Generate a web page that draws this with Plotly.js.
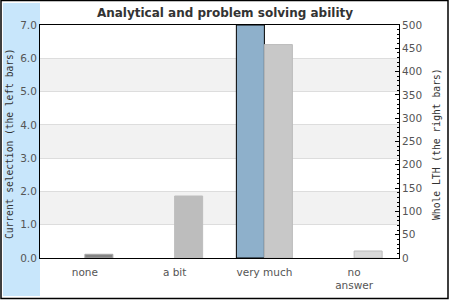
<!DOCTYPE html>
<html>
<head>
<meta charset="utf-8">
<script src="https://cdn.plot.ly/plotly-3.0.1.min.js"></script>
<style>html,body{margin:0;padding:0;background:#fff}#chart{width:450px;height:300px}</style>
</head>
<body>
<div id="chart"></div>
<script>
const categories = ['none', 'a bit', 'very much', 'no<br>answer'];
const currentSelection = [0, 0, 7.0, 0];
const wholeLTH = [8, 133, 458, 15];
const rightFill = ['#858585', '#bdbdbd', '#c8c8c8', '#d9d9d9'];
const rightEdge = ['#a8a8a8', '#bdbdbd', '#bbbbbb', '#bbbbbb'];
const leftTicks = [0, 1, 2, 3, 4, 5, 6, 7];
const rightTicks = [0, 50, 100, 150, 200, 250, 300, 350, 400, 450, 500];
const bands = [[1, 2], [3, 4], [5, 6]];

const L = 40, R = 51, T = 25, B = 42, W = 450, H = 300;
const pw = W - L - R, ph = H - T - B;
const px = v => (v - L) / pw;
const py = v => (H - B - v) / ph;

// outline only on bars that have a height
const leftEdgeWidth = currentSelection.map(v => (v > 0 ? 1 : 0));

const traces = [
  {
    type: 'bar', x: categories, y: currentSelection, yaxis: 'y', offsetgroup: '1',
    marker: {color: '#8eb0cb', line: {color: '#000000', width: leftEdgeWidth}},
    hoverinfo: 'x+y'
  },
  {
    type: 'bar', x: categories, y: wholeLTH, yaxis: 'y2', offsetgroup: '2',
    marker: {color: rightFill, line: {color: rightEdge, width: 1}},
    hoverinfo: 'x+y'
  }
];

const shapes = [
  {type: 'rect', xref: 'paper', yref: 'paper', x0: px(3), x1: px(40), y0: py(296), y1: py(3),
   fillcolor: '#c8e6fb', line: {width: 0}, layer: 'below'},
  {type: 'rect', xref: 'paper', yref: 'paper', x0: px(1), x1: px(448), y0: py(298.5), y1: py(0.5),
   fillcolor: 'rgba(0,0,0,0)', line: {color: '#000', width: 1.5}, layer: 'above'}
];
bands.forEach(b => shapes.push({type: 'rect', xref: 'paper', yref: 'y', x0: 0, x1: 1, y0: b[0], y1: b[1],
  fillcolor: '#f2f2f2', line: {width: 0}, layer: 'below'}));

const layout = {
  width: W, height: H,
  margin: {l: L, r: R, t: T, b: B, pad: 0},
  paper_bgcolor: '#ffffff', plot_bgcolor: '#ffffff',
  font: {family: 'DejaVu Sans', size: 10.5, color: '#555'},
  showlegend: false,
  barmode: 'group', bargap: 0.376, bargroupgap: 0,
  title: {text: '<b>Analytical and problem solving ability</b>', font: {family: 'DejaVu Sans', size: 12, color: '#333'},
          x: 0.5, xref: 'container', y: 1 - 12.5 / H, yref: 'container', yanchor: 'middle'},
  xaxis: {type: 'category', range: [-0.5, 3.5], showline: true, linecolor: '#000', linewidth: 1, mirror: true,
          ticks: '', ticklabelstandoff: 4, showgrid: false, zeroline: false, fixedrange: true,
          tickfont: {size: 10.5, color: '#555'}},
  yaxis: {range: [0, 7], tickvals: leftTicks, tickformat: '.1f', showline: true, linecolor: '#000', linewidth: 1,
          ticks: '', showgrid: true, gridcolor: '#dddddd', gridwidth: 1, zeroline: false, fixedrange: true,
          tickfont: {size: 10.5, color: '#555'}},
  yaxis2: {range: [0, 500], tickvals: rightTicks, overlaying: 'y', side: 'right', showline: true, linecolor: '#000',
           linewidth: 1, ticks: 'inside', ticklen: 4, tickcolor: '#000', showgrid: false, zeroline: false,
           minor: {dtick: 10, ticks: 'inside', ticklen: 2, tickcolor: '#000', showgrid: false},
           fixedrange: true, tickfont: {size: 10.5, color: '#555'}},
  shapes: shapes,
  annotations: [
    {text: 'Current selection (the left bars)', xref: 'paper', yref: 'paper', x: px(9.5), y: py(143.5),
     textangle: -90, showarrow: false, xanchor: 'center', yanchor: 'middle',
     font: {family: 'DejaVu Sans Mono', size: 9.6, color: '#333'}},
    {text: 'Whole LTH (the right bars)', xref: 'paper', yref: 'paper', x: px(436), y: py(144),
     textangle: -90, showarrow: false, xanchor: 'center', yanchor: 'middle',
     font: {family: 'DejaVu Sans Mono', size: 9.7, color: '#333'}}
  ]
};

Plotly.newPlot('chart', traces, layout, {displayModeBar: false, staticPlot: true});
</script>
</body>
</html>
